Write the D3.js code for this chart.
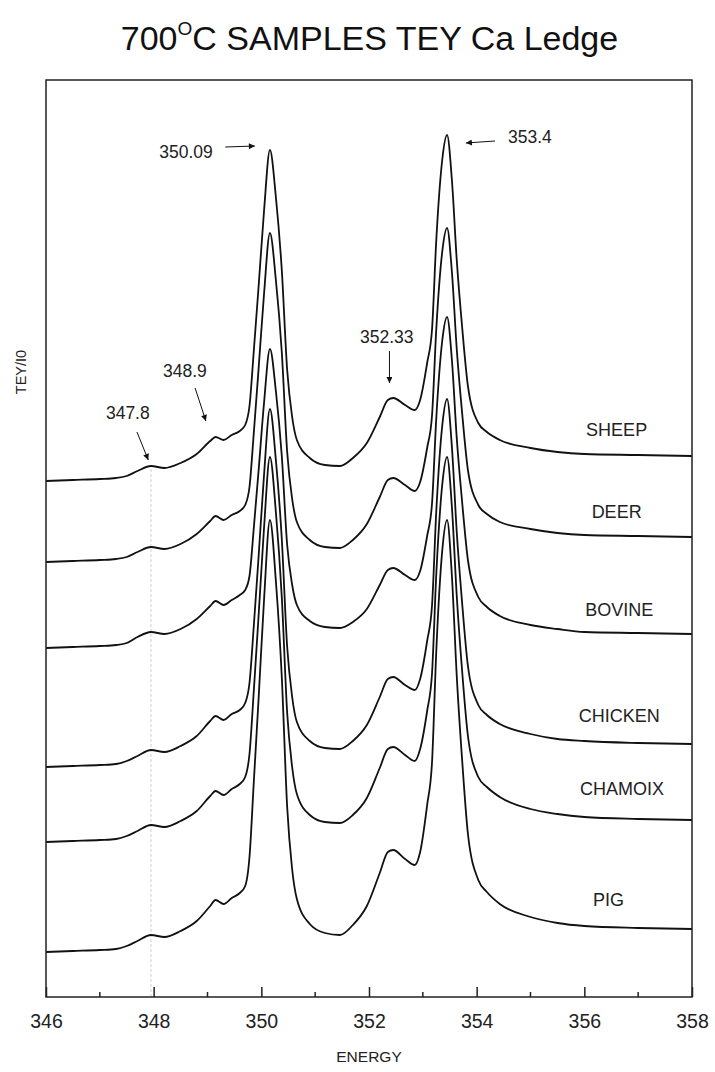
<!DOCTYPE html>
<html>
<head>
<meta charset="utf-8">
<script src="https://cdn.jsdelivr.net/npm/d3@7"></script>
<style>
  body { margin: 0; background: #fff; }
  svg { font-family: "Liberation Sans", Arial, sans-serif; }
</style>
</head>
<body>
<svg id="chart" width="715" height="1072"></svg>
<script>
// energies (eV), shared by all spectra
const energy = [346, 346.5, 347, 347.3, 347.5, 347.7, 347.95, 348.2, 348.5, 348.8,
    349.05, 349.15, 349.3, 349.45, 349.6, 349.7, 349.78, 349.86, 349.95, 350.05,
    350.16, 350.27, 350.38, 350.48, 350.57, 350.66, 350.9, 351.18, 351.46, 351.7,
    351.96, 352.2, 352.35, 352.45, 352.67, 352.85, 352.95, 353.08, 353.17, 353.25,
    353.36, 353.45, 353.54, 353.63, 353.73, 353.84, 354.03, 354.19, 354.43, 355,
    355.5, 356, 357, 358];

// TEY/I0 (offset stacked, a.u.)
const sheep = [5.16, 5.17, 5.18, 5.19, 5.21, 5.26, 5.31, 5.29, 5.34, 5.43,
    5.56, 5.60, 5.57, 5.62, 5.66, 5.72, 5.91, 6.46, 7.11, 7.86,
    8.47, 8.00, 7.27, 6.27, 5.81, 5.57, 5.39, 5.32, 5.31, 5.39,
    5.54, 5.80, 5.97, 5.99, 5.92, 5.87, 5.97, 6.34, 6.67, 7.57,
    8.37, 8.62, 8.17, 7.37, 6.70, 6.10, 5.74, 5.65, 5.57, 5.49,
    5.45, 5.43, 5.42, 5.41];
const deer = [4.35, 4.36, 4.37, 4.38, 4.40, 4.45, 4.50, 4.48, 4.53, 4.63,
    4.76, 4.81, 4.77, 4.82, 4.86, 4.92, 5.10, 5.64, 6.29, 7.03,
    7.64, 7.17, 6.45, 5.45, 4.99, 4.75, 4.57, 4.50, 4.49, 4.57,
    4.73, 5.00, 5.17, 5.19, 5.12, 5.06, 5.15, 5.49, 5.81, 6.68,
    7.45, 7.69, 7.25, 6.48, 5.84, 5.26, 4.92, 4.83, 4.75, 4.68,
    4.64, 4.62, 4.61, 4.60];
const bovine = [3.49, 3.50, 3.51, 3.52, 3.54, 3.60, 3.65, 3.63, 3.68, 3.78,
    3.91, 3.96, 3.92, 3.97, 4.02, 4.07, 4.21, 4.69, 5.27, 5.94,
    6.48, 6.06, 5.41, 4.52, 4.13, 3.92, 3.76, 3.70, 3.69, 3.75,
    3.88, 4.12, 4.27, 4.29, 4.22, 4.17, 4.26, 4.61, 4.93, 5.79,
    6.56, 6.80, 6.37, 5.59, 4.95, 4.36, 4.00, 3.90, 3.81, 3.72,
    3.68, 3.65, 3.64, 3.63];
const chicken = [2.30, 2.31, 2.32, 2.33, 2.36, 2.41, 2.47, 2.45, 2.51, 2.61,
    2.76, 2.81, 2.77, 2.83, 2.87, 2.94, 3.14, 3.71, 4.41, 5.22,
    5.88, 5.37, 4.58, 3.50, 3.01, 2.75, 2.56, 2.49, 2.48, 2.56,
    2.72, 3.00, 3.18, 3.20, 3.12, 3.07, 3.18, 3.56, 3.91, 4.86,
    5.71, 5.98, 5.50, 4.65, 3.94, 3.30, 2.92, 2.82, 2.73, 2.63,
    2.58, 2.56, 2.54, 2.53];
const chamoix = [1.55, 1.56, 1.57, 1.58, 1.61, 1.66, 1.72, 1.70, 1.76, 1.86,
    2.01, 2.06, 2.02, 2.08, 2.13, 2.20, 2.43, 3.06, 3.82, 4.69,
    5.40, 4.85, 4.00, 2.84, 2.31, 2.03, 1.82, 1.75, 1.74, 1.82,
    1.99, 2.29, 2.48, 2.50, 2.42, 2.36, 2.48, 2.86, 3.23, 4.23,
    5.12, 5.40, 4.90, 4.01, 3.26, 2.60, 2.20, 2.10, 2.00, 1.88,
    1.83, 1.80, 1.78, 1.77];
const pig = [0.45, 0.46, 0.47, 0.48, 0.51, 0.56, 0.62, 0.60, 0.66, 0.76,
    0.91, 0.97, 0.93, 0.99, 1.04, 1.11, 1.40, 2.15, 2.99, 3.97,
    4.77, 4.16, 3.20, 1.90, 1.29, 0.98, 0.73, 0.64, 0.62, 0.72,
    0.91, 1.24, 1.45, 1.47, 1.38, 1.32, 1.45, 1.92, 2.34, 3.46,
    4.46, 4.77, 4.21, 3.21, 2.37, 1.62, 1.17, 1.05, 0.93, 0.80,
    0.74, 0.71, 0.69, 0.68];

const sampleNames = ["SHEEP", "DEER", "BOVINE", "CHICKEN", "CHAMOIX", "PIG"];
const sampleSeries = [sheep, deer, bovine, chicken, chamoix, pig];
const labelEnergy = [356.6, 356.6, 356.65, 356.65, 356.7, 356.45];
const labelValue = [5.67, 4.85, 3.87, 2.81, 2.08, 0.97];

// peak annotations: text, text position, arrow start, arrow end (energy, value)
const notes = [
    { text: "347.8",  tx: 347.52, ty: 5.84, x1: 347.69, y1: 5.65, x2: 347.9,  y2: 5.37 },
    { text: "348.9",  tx: 348.58, ty: 6.26, x1: 348.77, y1: 6.09, x2: 348.97, y2: 5.76 },
    { text: "350.09", tx: 348.6,  ty: 8.45, x1: 349.33, y1: 8.50, x2: 349.88, y2: 8.51 },
    { text: "352.33", tx: 352.33, ty: 6.6,  x1: 352.38, y1: 6.46, x2: 352.38, y2: 6.14 },
    { text: "353.4",  tx: 354.99, ty: 8.6,  x1: 354.34, y1: 8.56, x2: 353.8,  y2: 8.54 }
];
const refLineEnergy = 347.95;

const xTicks = d3.range(346, 359, 2);
const xMinor = d3.range(347, 358, 2);

const margin = { left: 46, right: 23, top: 80, bottom: 75 };
const W = 715, H = 1072;
const svg = d3.select("#chart");

const x = d3.scaleLinear().domain([346, 358]).range([margin.left, W - margin.right]);
const y = d3.scaleLinear().domain([0, 9.17]).range([H - margin.bottom, margin.top]);

// title
const title = svg.append("text")
    .attr("x", W / 2 + 12).attr("y", 50)
    .attr("text-anchor", "middle")
    .attr("font-size", 34)
    .attr("fill", "#111");
title.append("tspan").text("700");
title.append("tspan").text("O").attr("font-size", 19).attr("dy", -15);
title.append("tspan").text("C SAMPLES TEY Ca Ledge").attr("dy", 15);

// grey reference line
svg.append("line")
    .attr("x1", x(refLineEnergy)).attr("x2", x(refLineEnergy))
    .attr("y1", y(0)).attr("y2", y(sheep[6]))
    .attr("stroke", "#cfcfcf")
    .attr("stroke-width", 1)
    .attr("stroke-dasharray", "3,2");

const line = d3.line()
    .x((d, i) => x(energy[i]))
    .y(d => y(d))
    .curve(d3.curveMonotoneX);

svg.append("g")
    .selectAll("path")
    .data(sampleSeries)
    .enter().append("path")
    .attr("d", d => line(d))
    .attr("fill", "none")
    .attr("stroke", "#111")
    .attr("stroke-width", 1.8)
    .attr("stroke-linejoin", "round");

svg.append("g")
    .selectAll("text")
    .data(sampleNames)
    .enter().append("text")
    .attr("x", (d, i) => x(labelEnergy[i]))
    .attr("y", (d, i) => y(labelValue[i]))
    .attr("dy", "0.35em")
    .attr("text-anchor", "middle")
    .attr("font-size", 18)
    .attr("fill", "#222")
    .text(d => d);

// arrows
svg.append("defs").append("marker")
    .attr("id", "arrow")
    .attr("viewBox", "0 -5 10 10")
    .attr("refX", 10)
    .attr("refY", 0)
    .attr("markerWidth", 10)
    .attr("markerHeight", 6)
    .attr("markerUnits", "userSpaceOnUse")
    .attr("orient", "auto")
    .append("path")
    .attr("d", "M0,-5L10,0L0,5Z")
    .attr("fill", "#111");

const ann = svg.append("g");
notes.forEach(n => {
    ann.append("line")
        .attr("x1", x(n.x1)).attr("y1", y(n.y1))
        .attr("x2", x(n.x2)).attr("y2", y(n.y2))
        .attr("stroke", "#111")
        .attr("stroke-width", 1)
        .attr("marker-end", "url(#arrow)");
    ann.append("text")
        .attr("x", x(n.tx)).attr("y", y(n.ty))
        .attr("dy", "0.35em")
        .attr("text-anchor", "middle")
        .attr("font-size", 17.5)
        .attr("fill", "#222")
        .text(n.text);
});

// frame
svg.append("rect")
    .attr("x", margin.left).attr("y", margin.top)
    .attr("width", W - margin.left - margin.right)
    .attr("height", H - margin.top - margin.bottom)
    .attr("fill", "none")
    .attr("stroke", "#222")
    .attr("stroke-width", 1.5);

// x axis, ticks inside
const xAxis = svg.append("g")
    .attr("transform", `translate(0,${y(0)})`)
    .call(d3.axisBottom(x).tickValues(xTicks).tickSize(-10).tickPadding(17).tickFormat(d3.format("d")));
xAxis.select(".domain").remove();
xAxis.selectAll(".tick line").attr("stroke", "#222").attr("stroke-width", 1.5);
xAxis.selectAll(".tick text")
    .attr("font-size", 19.5)
    .attr("font-family", "Liberation Sans, Arial, sans-serif")
    .attr("fill", "#222");

svg.append("g")
    .selectAll("line")
    .data(xMinor)
    .enter().append("line")
    .attr("x1", d => x(d)).attr("x2", d => x(d))
    .attr("y1", y(0)).attr("y2", y(0) - 5)
    .attr("stroke", "#222")
    .attr("stroke-width", 1.5);

svg.append("text")
    .attr("x", (margin.left + W - margin.right) / 2)
    .attr("y", 1062)
    .attr("text-anchor", "middle")
    .attr("font-size", 15.5)
    .attr("fill", "#222")
    .text("ENERGY");

svg.append("text")
    .attr("transform", "translate(26,372) rotate(-90)")
    .attr("text-anchor", "middle")
    .attr("font-size", 14.5)
    .attr("fill", "#222")
    .text("TEY/I0");
</script>
</body>
</html>
